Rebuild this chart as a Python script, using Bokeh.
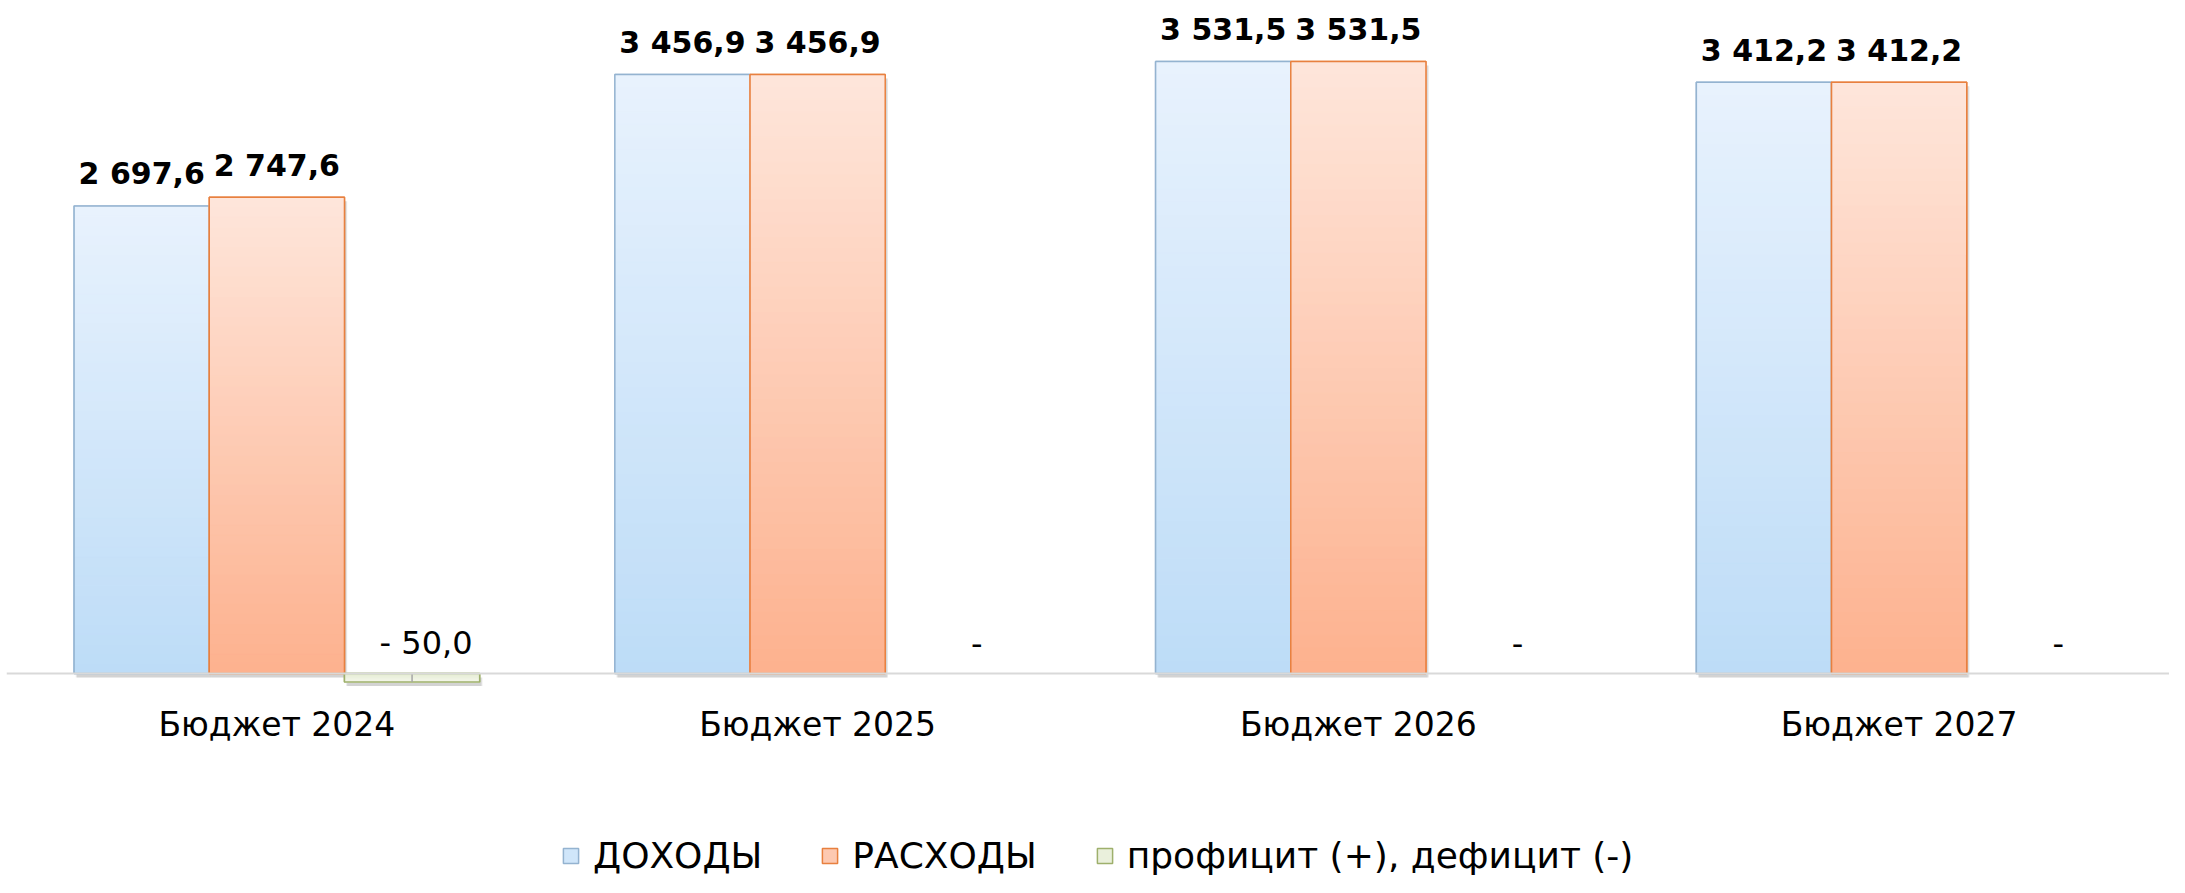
from bokeh.plotting import figure
from bokeh.models import ColumnDataSource, FactorRange, Range1d, Legend, LegendItem
from bokeh.transform import dodge
from bokeh.core.properties import value
from bokeh.embed import file_html
from bokeh.resources import INLINE

# ---- data ----
categories = ["Бюджет 2024", "Бюджет 2025", "Бюджет 2026", "Бюджет 2027"]
dohody = [2697.6, 3456.9, 3531.5, 3412.2]
rashody = [2747.6, 3456.9, 3531.5, 3412.2]
saldo = [-50.0, 0.0, 0.0, 0.0]
series_names = ["ДОХОДЫ", "РАСХОДЫ", "профицит (+), дефицит (-)"]

FONT = "DejaVu Sans"


def fmt(v):
    if v == 0:
        return "-"
    s = f"{abs(v):,.1f}".replace(",", " ").replace(".", ",")
    return ("- " if v < 0 else "") + s


def hex2rgb(h):
    h = h.lstrip("#")
    return tuple(int(h[i:i + 2], 16) for i in (0, 2, 4))


def lerp(c1, c2, t):
    a, b = hex2rgb(c1), hex2rgb(c2)
    return "#%02x%02x%02x" % tuple(round(a[i] + (b[i] - a[i]) * t) for i in range(3))


N = 48
PX_PER_UNIT = 0.1715
FRAME_H = 868      # frame height (figure height minus the small axis panel)
BASE_Y = 666       # baseline position from frame top
SHADOW_DY = 4 / PX_PER_UNIT   # 4px drop shadow


def gradient_source(vals, top_color, bottom_color):
    xs, bs, ts, cs = [], [], [], []
    for cat, v in zip(categories, vals):
        if v == 0:
            continue
        for k in range(N):
            xs.append(cat)
            bs.append(v * k / N)
            ts.append(v * (k + 1) / N)
            cs.append(lerp(bottom_color, top_color, (k + 0.5) / N))
    return ColumnDataSource(dict(x=xs, bottom=bs, top=ts, color=cs))


def bar_source(vals):
    keep = [i for i, v in enumerate(vals) if v != 0]
    vv = [vals[i] for i in keep]
    return ColumnDataSource(dict(x=[categories[i] for i in keep], v=vv,
                                 sb=[min(0, v) - SHADOW_DY for v in vv],
                                 st=[max(0, v) - SHADOW_DY for v in vv]))


p = figure(width=2169, height=877,
           x_range=FactorRange(*categories, range_padding=0),
           y_range=Range1d(-(FRAME_H - BASE_Y) / PX_PER_UNIT, BASE_Y / PX_PER_UNIT),
           output_backend="svg", toolbar_location=None,
           y_axis_location=None,
           min_border_left=6, min_border_right=0, min_border_top=0, min_border_bottom=0)
p.xgrid.visible = False
p.ygrid.visible = False
p.outline_line_color = None
p.background_fill_color = "white"

W = 0.25
specs = [
    (-0.25, "#E8F2FD", "#BDDCF7", "#94B3D0", dohody),
    (0.0, "#FEE6DB", "#FDB18E", "#E8803F", rashody),
    (0.25, "#F3F6EA", "#E3EBD0", "#9EB06C", saldo),
]

# soft drop shadows first
for off, ctop, cbot, cline, vals in specs:
    bs = bar_source(vals)
    p.vbar(x=dodge("x", off + 0.005, range=p.x_range), top="st", bottom="sb", width=W,
           source=bs, fill_color="#000000", fill_alpha=0.10, line_color=None)
    p.vbar(x=dodge("x", off + 0.003, range=p.x_range), top="st", bottom="sb", width=W,
           source=bs, fill_color="#000000", fill_alpha=0.08, line_color=None)

legend_renderers = []
for off, ctop, cbot, cline, vals in specs:
    bs = bar_source(vals)
    base = p.vbar(x=dodge("x", off, range=p.x_range), top="v", bottom=0, width=W, source=bs,
                  fill_color=lerp(cbot, ctop, 0.45), line_color=cline, line_width=1.5)
    legend_renderers.append(base)
    gs = gradient_source(vals, ctop, cbot)
    p.vbar(x=dodge("x", off, range=p.x_range), top="top", bottom="bottom", width=W,
           source=gs, fill_color="color", line_color="color", line_width=1)
    p.vbar(x=dodge("x", off, range=p.x_range), top="v", bottom=0, width=W, source=bs,
           fill_alpha=0, line_color=cline, line_width=1.5)

# leader line for the deficit label
lead = bar_source(saldo)
p.segment(x0=dodge("x", 0.25, range=p.x_range), x1=dodge("x", 0.25, range=p.x_range),
          y0="v", y1=0, source=lead, line_color="#A6A6A6", line_width=1.5)

src = ColumnDataSource(dict(x=categories, d=dohody, r=rashody, s=saldo,
                            dl=[fmt(v) for v in dohody],
                            rl=[fmt(v) for v in rashody],
                            sl=[fmt(v) for v in saldo],
                            sxo=[14 if v != 0 else 24 for v in saldo]))

# value labels
for col, lcol, off in (("d", "dl", -0.25), ("r", "rl", 0.0)):
    p.text(x=dodge("x", off, range=p.x_range), y=col, text=lcol, source=src,
           y_offset=-32, text_align="center", text_baseline="middle",
           text_font=value(FONT), text_font_style="bold", text_font_size="30px",
           text_color="#000000")
p.text(x=dodge("x", 0.25, range=p.x_range), y=0, text="sl", source=src,
       x_offset="sxo", y_offset=-30, text_align="center", text_baseline="middle",
       text_font=value(FONT), text_font_size="32px", text_color="#000000")

# category axis drawn at zero
ax = p.xaxis[0]
ax.fixed_location = 0
ax.axis_line_color = "#D9D9D9"
ax.axis_line_width = 2
ax.major_tick_line_color = None
ax.minor_tick_line_color = None
ax.major_label_standoff = 26
ax.major_label_text_font = FONT
ax.major_label_text_font_size = "33px"
ax.major_label_text_color = "#000000"

legend = Legend(items=[LegendItem(label=n, renderers=[r]) for n, r in zip(series_names, legend_renderers)],
                orientation="horizontal", location=(555, 1),
                spacing=58, label_standoff=13, glyph_width=19, glyph_height=19,
                label_text_font=FONT, label_text_font_size="36px", label_text_color="#000000",
                border_line_color=None, background_fill_alpha=0, padding=0, margin=0)
p.add_layout(legend)

open("out.html", "w").write(file_html(p, INLINE))
